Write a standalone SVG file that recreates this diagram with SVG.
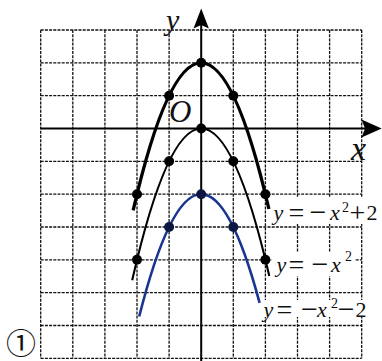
<svg xmlns="http://www.w3.org/2000/svg" width="382" height="361" viewBox="0 0 382 361">
<style>
.grid{stroke:#111;stroke-width:1.3;stroke-dasharray:3 1.2;fill:none}
.axis{stroke:#000;stroke-width:2;fill:none}
.dot{fill:#000}
.bdot{fill:#0d1640}
</style>
<rect width="382" height="361" fill="#fff"/>
<g id="grid">
<path class="grid" d="M40.7 30V358.3M72.8 30V358.3M104.9 30V358.3M137 30V358.3M169.1 30V358.3M233.3 30V358.3M265.4 30V358.3M297.5 30V358.3M329.6 30V358.3M361.7 30V358.3"/>
<path class="grid" d="M40.7 30H361.7M40.7 62.8H361.7M40.7 95.7H361.7M40.7 161.3H361.7M40.7 194.2H361.7M40.7 227H361.7M40.7 259.8H361.7M40.7 292.6H361.7M40.7 325.5H361.7M40.7 358.3H361.7"/>
<rect x="270" y="197" width="112" height="27" fill="#fff"/>
<rect x="272" y="252" width="83" height="24" fill="#fff"/>
<rect x="261" y="300" width="110" height="17" fill="#fff"/>
</g>
<g id="axes">
<path class="axis" d="M40.7 128.5H366"/>
<polygon points="381.7,128.5 361.5,119.5 365,128.5 361.5,137.5" fill="#000"/>
<path class="axis" d="M201.2 361V24"/>
<polygon points="201.2,8.5 193.5,28.5 201.2,25 208.9,28.5" fill="#000"/>
<text x="166" y="30" font-family="Liberation Serif, DejaVu Serif, serif" font-style="italic" font-size="30" fill="#111">y</text>
<text x="169" y="122" font-family="Liberation Serif, DejaVu Serif, serif" font-style="italic" font-size="31" fill="#111">O</text>
<text x="351" y="160" font-family="Liberation Serif, DejaVu Serif, serif" font-style="italic" font-size="34" fill="#111">x</text>
</g>
<g id="connectors">
<path d="M133.15 210.4Q201 -84 268.9 209" fill="none" stroke="#000" stroke-width="3.3"/>
<path d="M132.2 280.3Q200.7 -21.1 269.3 276" fill="none" stroke="#000" stroke-width="2.1"/>
<path d="M139.2 316.5Q199.4 78.84 259.6 302.9" fill="none" stroke="#1a3590" stroke-width="2.6"/>
</g>
<g id="curve-top-points">
<circle class="dot" cx="201.2" cy="62.8" r="5"/>
<circle class="dot" cx="169.1" cy="95.7" r="5"/>
<circle class="dot" cx="233.3" cy="95.7" r="5"/>
<circle class="dot" cx="137" cy="194.2" r="5"/>
<circle class="dot" cx="265.4" cy="194.2" r="5"/>
</g>
<g id="curve-mid-points">
<circle class="dot" cx="201.2" cy="128.5" r="5"/>
<circle class="dot" cx="169.1" cy="161.3" r="5"/>
<circle class="dot" cx="233.3" cy="161.3" r="5"/>
<circle class="dot" cx="137" cy="259.8" r="5"/>
<circle class="dot" cx="265.4" cy="259.8" r="5"/>
</g>
<g id="curve-low-points">
<circle class="bdot" cx="201.2" cy="194.2" r="5"/>
<circle class="bdot" cx="169.1" cy="227" r="5"/>
<circle class="bdot" cx="233.3" cy="227" r="5"/>
</g>
<g id="label-top">
<text y="220" font-family="Liberation Serif, DejaVu Serif, serif" font-size="22" fill="#111"><tspan font-style="italic" x="273.5">y</tspan><tspan font-size="28" x="288.6" y="222.2">=</tspan><tspan font-size="30" x="309.5" y="222.2">−</tspan><tspan font-style="italic" x="330" y="220">x</tspan><tspan font-size="14" x="342" y="211.5">2</tspan><tspan font-size="28" x="349.6" y="222">+</tspan><tspan x="366.5" y="220">2</tspan></text>
</g>
<g id="label-mid">
<text y="272" font-family="Liberation Serif, DejaVu Serif, serif" font-size="22" fill="#111"><tspan font-style="italic" x="276.5">y</tspan><tspan font-size="28" x="288.6" y="274.2">=</tspan><tspan font-size="30" x="311.5" y="274.2">−</tspan><tspan font-style="italic" x="331" y="272">x</tspan><tspan font-size="14" x="345" y="261">2</tspan></text>
</g>
<g id="label-low">
<text y="316.7" font-family="Liberation Serif, DejaVu Serif, serif" font-size="22" fill="#111"><tspan font-style="italic" x="263.5">y</tspan><tspan font-size="28" x="276.6" y="318.9">=</tspan><tspan font-size="30" x="301" y="318.9">−</tspan><tspan font-style="italic" x="317" y="316.7">x</tspan><tspan font-size="14" x="331" y="307.5">2</tspan><tspan font-size="30" x="337.8" y="318.9">−</tspan><tspan x="355.5" y="316.7">2</tspan></text>
</g>
<g id="tag">
<text x="6" y="354" font-family="Liberation Serif, Noto Sans CJK SC, serif" font-size="30" fill="#111">①</text>
</g>
</svg>
